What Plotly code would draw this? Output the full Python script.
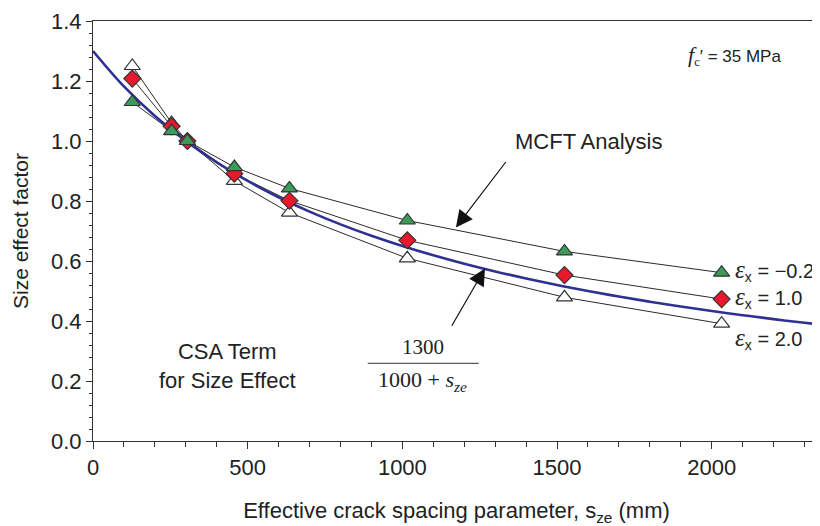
import plotly.graph_objects as go

# ---- data ----
s_ze = [127, 254, 305, 457, 635, 1016, 1524, 2032]
eps_m02 = [1.13, 1.033, 1.0, 0.913, 0.842, 0.735, 0.632, 0.561]
eps_10 = [1.208, 1.049, 1.0, 0.891, 0.801, 0.669, 0.553, 0.473]
eps_20 = [1.25, 1.06, 1.0, 0.867, 0.761, 0.609, 0.479, 0.391]

csa_s = [0, 100, 200, 300, 400, 500, 600, 700, 800, 900, 1000, 1100, 1200,
         1300, 1400, 1500, 1600, 1700, 1800, 1900, 2000, 2100, 2200, 2300, 2350]
csa_v = [1.3, 1.1818, 1.0833, 1.0, 0.9286, 0.8667, 0.8125, 0.7647, 0.7222,
         0.6842, 0.65, 0.6190, 0.5909, 0.5652, 0.5417, 0.52, 0.5, 0.4815,
         0.4643, 0.4483, 0.4333, 0.4194, 0.4063, 0.3939, 0.3881]

x_ticks = [0, 500, 1000, 1500, 2000]
y_ticks = [0.0, 0.2, 0.4, 0.6, 0.8, 1.0, 1.2, 1.4]

SANS = "Liberation Sans, Arial, sans-serif"
SERIF = "Liberation Serif, Times New Roman, serif"
TXT = "#222222"
EDGE = "#333333"

fig = go.Figure()

# connecting lines
for ys in (eps_m02, eps_10, eps_20):
    fig.add_trace(go.Scatter(x=s_ze, y=ys, mode="lines",
                             line=dict(color="#2a2a2a", width=1),
                             showlegend=False, hoverinfo="skip"))

# CSA curve
fig.add_trace(go.Scatter(x=csa_s, y=csa_v, mode="lines",
                         line=dict(color="#2e3192", width=2.6, shape="spline"),
                         showlegend=False))

# markers
fig.add_trace(go.Scatter(x=s_ze, y=eps_20, mode="markers",
                         marker=dict(symbol="triangle-up", size=14, color="white",
                                     line=dict(color=EDGE, width=1.2)),
                         showlegend=False))
fig.add_trace(go.Scatter(x=s_ze, y=eps_10, mode="markers",
                         marker=dict(symbol="diamond", size=13, color="#e8192c",
                                     line=dict(color=EDGE, width=1.2)),
                         showlegend=False))
fig.add_trace(go.Scatter(x=s_ze, y=eps_m02, mode="markers",
                         marker=dict(symbol="triangle-up", size=14, color="#3d9a5a",
                                     line=dict(color=EDGE, width=1.2)),
                         showlegend=False))

ann = []
# f'c label
ann.append(dict(x=2072, y=1.286, xref="x", yref="y", showarrow=False,
                text=("<span style='font-family:Liberation Serif;font-size:22px'><i>f</i></span>"
                      "<span style='font-family:Liberation Serif;font-size:18px'><sub>c</sub></span>"
                      "\u2032 = 35 MPa"),
                font=dict(family=SANS, size=17, color=TXT)))
# MCFT label
ann.append(dict(x=1603, y=1.0, xref="x", yref="y", showarrow=False,
                text="MCFT Analysis", font=dict(family=SANS, size=22, color=TXT)))
# CSA label
ann.append(dict(x=436, y=0.249, xref="x", yref="y", showarrow=False,
                text="CSA Term<br>for Size Effect",
                font=dict(family=SANS, size=22, color=TXT)))
# fraction
ann.append(dict(x=1066, y=0.313, xref="x", yref="y", showarrow=False,
                text="1300", font=dict(family=SERIF, size=21, color=TXT)))
ann.append(dict(x=1066, y=0.199, xref="x", yref="y", showarrow=False,
                text="1000 + <i>s</i><sub><i>ze</i></sub>",
                font=dict(family=SERIF, size=22, color=TXT)))
# epsilon labels
eps_labels = [("\u22120.2", 0.569), ("1.0", 0.479), ("2.0", 0.342)]
for val, yy in eps_labels:
    ann.append(dict(x=2070, y=yy, xref="x", yref="y", showarrow=False,
                    xanchor="left",
                    text=("<span style='font-family:Liberation Serif;font-size:25px'><i>\u03b5</i></span>"
                          "<sub>x</sub> = " + val),
                    font=dict(family=SANS, size=20, color=TXT)))
# arrows
ann.append(dict(x=1173, y=0.712, ax=1338, ay=0.935, xref="x", yref="y",
                axref="x", ayref="y", text="", showarrow=True,
                arrowhead=2, arrowsize=2.8, arrowwidth=1.2, arrowcolor="#111"))
ann.append(dict(x=1267, y=0.575, ax=1157, ay=0.379, xref="x", yref="y",
                axref="x", ayref="y", text="", showarrow=True,
                arrowhead=2, arrowsize=2.8, arrowwidth=1.2, arrowcolor="#111"))

# the page body has an 8px margin, so the figure is 8px smaller and offset
fig.update_layout(
    width=812, height=518,
    margin=dict(l=85, r=0, t=13, b=85),
    plot_bgcolor="white", paper_bgcolor="white",
    annotations=ann,
    shapes=[dict(type="line", xref="x", yref="y", x0=888, x1=1247,
                 y0=0.259, y1=0.259, line=dict(color="#333", width=1))],
    xaxis=dict(range=[0, 2350], tickvals=x_ticks, ticktext=[str(v) for v in x_ticks],
               automargin=False,
               ticks="outside", ticklen=7, tickwidth=1, tickcolor="#333",
               minor=dict(dtick=100, tick0=0, ticks="outside", ticklen=5,
                          tickcolor="#333", showgrid=False),
               showline=True, linecolor="#333", linewidth=1, mirror=True,
               showgrid=False, zeroline=False,
               tickfont=dict(family=SANS, size=22, color=TXT),
               title=dict(text="Effective crack spacing parameter, s<sub>ze</sub> (mm)",
                          font=dict(family=SANS, size=22, color=TXT), standoff=23)),
    xaxis2=dict(range=[0, 2350], overlaying="x", matches="x", anchor="y", side="bottom",
                automargin=False,
                tickvals=x_ticks, ticks="inside", ticklen=7, tickcolor="#333",
                showticklabels=False, showline=False, showgrid=False, zeroline=False),
    yaxis=dict(range=[0, 1.4], tickvals=y_ticks, ticktext=[f"{v:.1f}" for v in y_ticks],
               automargin=False,
               ticks="outside", ticklen=6, tickwidth=1, tickcolor="#333",
               minor=dict(dtick=0.04, tick0=0, ticks="outside", ticklen=3.5,
                          tickcolor="#333", showgrid=False),
               showline=True, linecolor="#333", linewidth=1,
               showgrid=False, zeroline=False,
               tickfont=dict(family=SANS, size=22, color=TXT),
               title=dict(text="Size effect factor",
                          font=dict(family=SANS, size=21, color=TXT), standoff=16)),
)

fig.write_html("out.html")
